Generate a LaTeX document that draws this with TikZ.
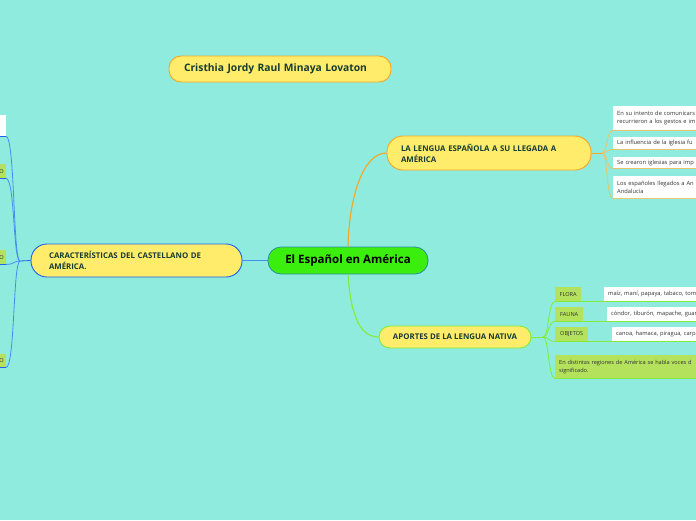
\documentclass[tikz,border=0pt]{standalone}
\usepackage{fontspec}
\setmainfont{Open Sans}
\definecolor{bg}{RGB}{142,235,221}
\definecolor{yellowfill}{RGB}{255,236,107}
\definecolor{orangeline}{RGB}{245,166,35}
\definecolor{blueline}{RGB}{35,95,235}
\definecolor{blueconn}{RGB}{70,140,240}
\definecolor{centralfill}{RGB}{60,238,14}
\definecolor{centralline}{RGB}{45,140,160}
\definecolor{textdark}{RGB}{22,60,50}
\definecolor{greenline}{RGB}{130,235,60}
\definecolor{labelgreen}{RGB}{180,226,92}
\definecolor{khaki}{RGB}{228,198,110}
\definecolor{smalltext}{RGB}{50,50,50}
\begin{document}
\begin{tikzpicture}[x=1pt,y=-1pt,
  mainnode/.style={draw=centralline, fill=centralfill, line width=0.8pt, rounded corners=13pt,
    minimum width=160pt, minimum height=27pt, inner sep=0pt,
    font=\bfseries\fontsize{11.5}{13}\selectfont, text=black},
  topic/.style={fill=yellowfill, line width=0.9pt, inner ysep=0pt, align=left,
    font=\bfseries\fontsize{7.85}{11}\selectfont, text=textdark},
  wbox/.style={fill=white, anchor=north west, inner xsep=4pt, inner ysep=0pt, align=left,
    text width=100pt, font=\fontsize{5.75}{8.2}\selectfont, text=smalltext},
  gbox/.style={fill=labelgreen, inner xsep=4pt, inner ysep=0pt, align=left,
    font=\fontsize{5.6}{8.2}\selectfont, text=smalltext},
  mainconn/.style={line width=1.1pt},
  subconn/.style={line width=0.8pt}]
\useasboundingbox (0,0) rectangle (696,520);
\fill[bg] (0,0) rectangle (696,520);
\clip (0,0) rectangle (696,520);

% central
\node[mainnode] (c) at (348,260.5) {El Español en América};

% title
\node[topic, draw=orangeline, rounded corners=12pt, minimum height=26pt,
  inner xsep=15pt, text width=192pt, font=\bfseries\fontsize{10.3}{12}\selectfont] (t) at (280,69)
  {Cristhia Jordy Raul Minaya Lovaton};

% main topics
\node[topic, draw=blueline, rounded corners=16pt, minimum height=33pt,
  inner xsep=18pt, text width=175pt] (k) at (136.5,260.5)
  {CARACTERÍSTICAS DEL CASTELLANO DE\\AMÉRICA.};
\node[topic, draw=orangeline, rounded corners=16pt, minimum height=34pt,
  inner xsep=14pt, text width=176pt] (l) at (489,153)
  {LA LENGUA ESPAÑOLA A SU LLEGADA A\\AMÉRICA};
\node[topic, draw=greenline, rounded corners=11pt, minimum height=22pt,
  minimum width=152pt, inner xsep=0pt, align=center] (a) at (455,337)
  {APORTES DE LA LENGUA NATIVA};

% main connectors
\draw[mainconn, blueconn] (c.west) -- (k.east);
\draw[mainconn, orangeline] (c.north) .. controls (349,200) and (362,153) .. (l.west);
\draw[mainconn, greenline] (c.south) .. controls (351,320) and (362,337) .. (a.west);

% right upper boxes
\node[wbox, minimum height=24pt] (u1) at (613,106)
  {En su intento de comunicars\\recurrieron a los gestos e im};
\node[wbox, minimum height=12pt] (u2) at (613,137) {La influencia de la iglesia fu};
\node[wbox, minimum height=11pt] (u3) at (613,157) {Se crearon iglesias para imp};
\node[wbox, minimum height=22pt] (u4) at (613,176)
  {Los españoles llegados a An\\Andalucía};
\coordinate (jr) at (602,153);
\draw[subconn, orangeline] (l.east) -- (jr);
\foreach \n in {u1,u2,u3,u4}{
  \draw[subconn, khaki] (jr) .. controls +(6,0) and ([xshift=-7pt]\n.south west) .. (\n.south west) -- (\n.south east);
}

% right lower boxes
\node[gbox, anchor=north west, minimum height=14pt, minimum width=26pt] (fl) at (555,287) {FLORA};
\node[gbox, anchor=north west, minimum height=14pt, minimum width=28pt] (fa) at (555,307) {FAUNA};
\node[gbox, anchor=north west, minimum height=14pt, minimum width=33pt] (ob) at (555,327) {OBJETOS};
\node[gbox, anchor=north west, minimum height=23pt, text width=160pt] (en) at (555,355)
  {En distintas regiones de América se habla voces d\\significado.};
\node[wbox, minimum height=14pt] (wf) at (604,287) {maíz, maní, papaya, tabaco, tom};
\node[wbox, minimum height=14pt] (wa) at (607,307) {cóndor, tiburón, mapache, guar};
\node[wbox, minimum height=14pt] (wo) at (612,327) {canoa, hamaca, piragua, carpa};
\coordinate (ja) at (543,337);
\draw[subconn, greenline] (a.east) -- (ja);
\draw[subconn, greenline] (ja) .. controls +(6,0) and ([xshift=-7pt]fl.south west) .. (fl.south west) -- (wf.south east);
\draw[subconn, greenline] (ja) .. controls +(6,0) and ([xshift=-7pt]fa.south west) .. (fa.south west) -- (wa.south east);
\draw[subconn, greenline] (ja) .. controls +(6,0) and ([xshift=-7pt]ob.south west) .. (ob.south west) -- (wo.south east);
\draw[subconn, greenline] (ja) .. controls +(6,0) and ([xshift=-7pt]en.south west) .. (en.south west) -- (en.south east);

% left boxes
\node[fill=white, anchor=north east, minimum width=60pt, minimum height=21pt, inner sep=0pt] (lw1) at (6,115) {};
\node[gbox, anchor=north east, minimum height=14pt, text width=50pt, align=right, inner xsep=2pt] (lg1) at (6,164) {O};
\node[gbox, anchor=north east, minimum height=14pt, text width=50pt, align=right, inner xsep=2pt] (lg2) at (6,250) {O};
\node[gbox, anchor=north east, minimum height=13pt, text width=50pt, align=right, inner xsep=2pt] (lg3) at (6,354) {O};
\coordinate (jl) at (20,261);
\draw[subconn, blueline] (k.west) -- (jl);
\foreach \n in {lw1,lg1,lg2,lg3}{
  \draw[subconn, blueconn] (jl) .. controls +(-7,0) and ([xshift=9pt]\n.south east) .. (\n.south east);
  \draw[subconn, blueline] (\n.south east) -- (\n.south west);
}
\end{tikzpicture}
\end{document}
